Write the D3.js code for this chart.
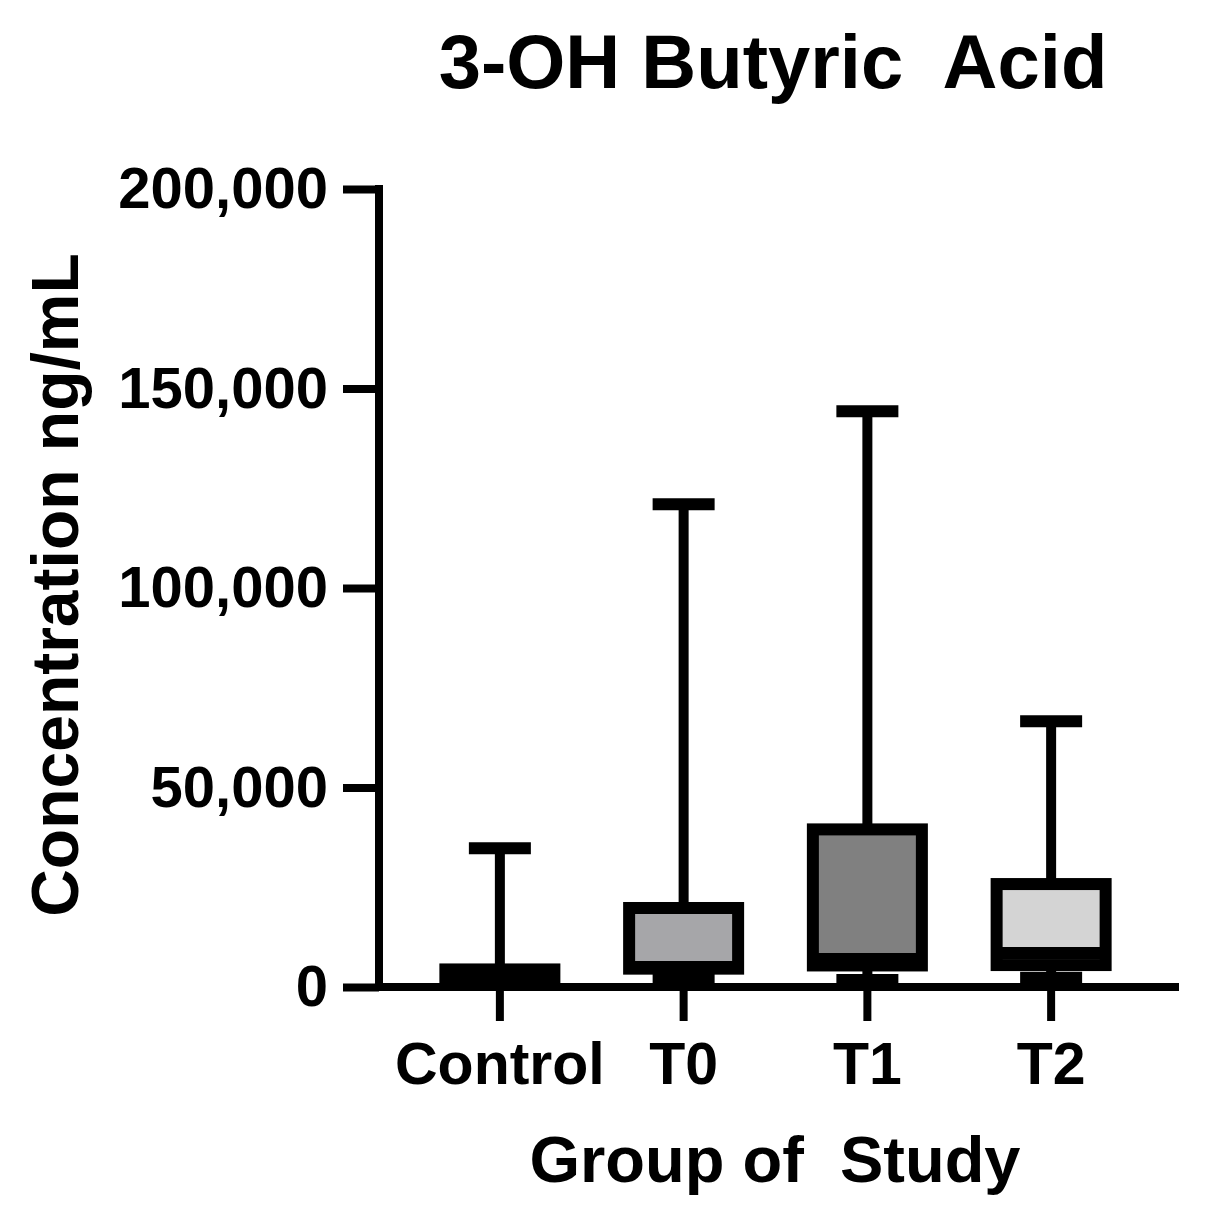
<!DOCTYPE html>
<html>
<head>
<meta charset="utf-8">
<script src="https://cdn.jsdelivr.net/npm/d3@7"></script>
<style>
  html, body { margin: 0; padding: 0; background: #fff; }
  text { font-family: "Liberation Sans", Arial, sans-serif; font-weight: bold; fill: #000; }
</style>
</head>
<body>
<svg id="chart" width="1211" height="1217"></svg>
<script>
// ---- data ----
const categories = ["Control", "T0", "T1", "T2"];
const minValues    = [600,   2200,   1750,   2300];
const q1Values     = [900,   4600,   5400,   5500];
const medianValues = [1800,  5000,   7000,   8500];
const q3Values     = [4400,  19800,  39500,  25800];
const maxValues    = [34750, 121000, 144300, 66600];
const fillColors   = ["#000000", "#a6a6a9", "#808080", "#d4d4d4"];
const yTickValues  = [0, 50000, 100000, 150000, 200000];
const titleText = "3-OH Butyric  Acid";
const xTitle = "Group of  Study";
const yTitle = "Concentration ng/mL";

const groups = categories.map((c, i) => ({
  cat: c, min: minValues[i], q1: q1Values[i], med: medianValues[i],
  q3: q3Values[i], max: maxValues[i], fill: fillColors[i]
}));

const svg = d3.select("#chart");
const y = d3.scaleLinear().domain([0, 200000]).range([987, 189]);
const x = d3.scaleBand().domain(categories).range([408, 1143]).padding(0);
const axisX = 379;
const axisY = y(0);

const boxW = 109, capW = 62, boxStroke = 12, whiskerW = 10;

const g = svg.append("g");
groups.forEach(d => {
  const cx = x(d.cat) + x.bandwidth() / 2;
  // whiskers
  g.append("line").attr("x1", cx).attr("x2", cx).attr("y1", y(d.max)).attr("y2", y(d.min))
    .attr("stroke", "#000").attr("stroke-width", whiskerW);
  // caps
  [d.max, d.min].forEach(v => {
    g.append("line").attr("x1", cx - capW / 2).attr("x2", cx + capW / 2)
      .attr("y1", y(v)).attr("y2", y(v))
      .attr("stroke", "#000").attr("stroke-width", boxStroke);
  });
  // box
  g.append("rect").attr("x", cx - boxW / 2).attr("width", boxW)
    .attr("y", y(d.q3)).attr("height", y(d.q1) - y(d.q3))
    .attr("fill", d.fill).attr("stroke", "#000").attr("stroke-width", boxStroke);
  // median
  g.append("line").attr("x1", cx - boxW / 2).attr("x2", cx + boxW / 2)
    .attr("y1", y(d.med)).attr("y2", y(d.med))
    .attr("stroke", "#000").attr("stroke-width", boxStroke);
});

// Y axis
const yAxis = svg.append("g").attr("transform", `translate(${axisX},0)`)
  .call(d3.axisLeft(y).tickValues(yTickValues).tickFormat(d3.format(",")).tickSize(36).tickPadding(15).tickSizeOuter(0));
yAxis.selectAll("path, line").attr("stroke", "#000").attr("stroke-width", 8);
yAxis.select(".domain").attr("d", `M0,${y(200000) - 4}V${axisY + 4}`);
yAxis.selectAll("text").style("font-size", "58px").attr("fill", "#000")
  .style("font-family", '"Liberation Sans", Arial, sans-serif').style("font-weight", "bold");

// X axis
const xAxis = svg.append("g").attr("transform", `translate(0,${axisY})`)
  .call(d3.axisBottom(x).tickSize(34).tickPadding(21).tickSizeOuter(0));
xAxis.select(".domain").attr("d", `M${axisX},0H1179`);
xAxis.selectAll("path, line").attr("stroke", "#000").attr("stroke-width", 8);
xAxis.selectAll("text").style("font-size", "59px").attr("fill", "#000")
  .style("font-family", '"Liberation Sans", Arial, sans-serif').style("font-weight", "bold");

// titles
svg.append("text").attr("x", 773).attr("y", 88).attr("text-anchor", "middle")
  .style("font-size", "76px").style("white-space", "pre").text(titleText);
svg.append("text").attr("x", 775).attr("y", 1182).attr("text-anchor", "middle")
  .style("font-size", "65px").style("white-space", "pre").text(xTitle);
svg.append("text").attr("transform", "translate(78,585) rotate(-90)").attr("text-anchor", "middle")
  .style("font-size", "66px").text(yTitle);
</script>
</body>
</html>
